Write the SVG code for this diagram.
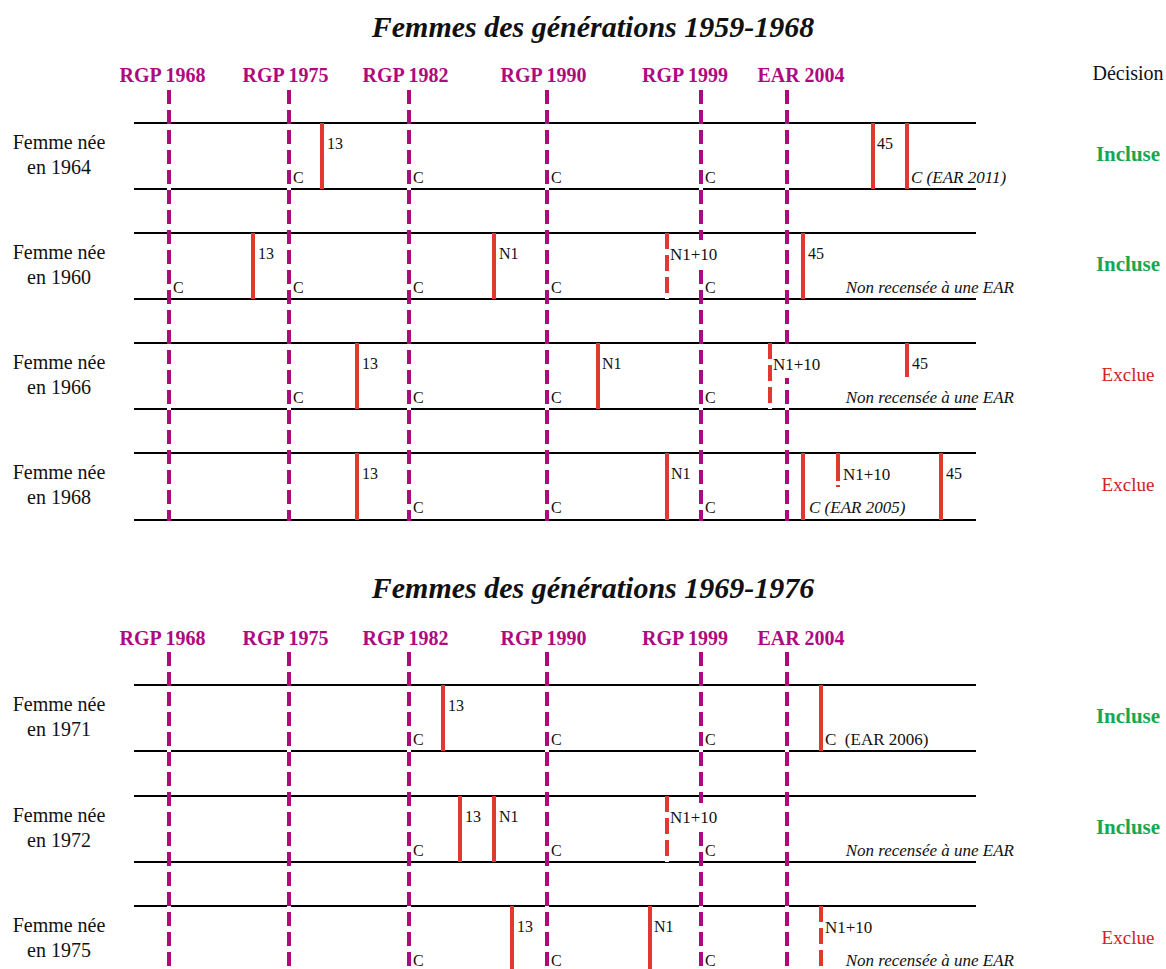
<svg xmlns="http://www.w3.org/2000/svg" width="1166" height="969" viewBox="0 0 1166 969">
<style>
text{font-family:"Liberation Serif","DejaVu Serif",serif;fill:#111}
.title{font-size:30px;font-weight:bold;font-style:italic;text-anchor:middle}
.hdr{font-size:20px;font-weight:bold;fill:#AE0A80;text-anchor:middle}
.dec{font-size:20px;text-anchor:middle}
.inc{font-size:21px;font-weight:bold;fill:#14A850;text-anchor:middle}
.exc{font-size:19px;fill:#D42020;text-anchor:middle}
.who{font-size:20px;text-anchor:middle}
.lb{font-size:16px}
.n10{font-size:17px}
.it{font-size:17px;font-style:italic}
.nr{font-size:17px;font-style:italic;text-anchor:end}
.bg{fill:#fff}
.h{stroke:#000;stroke-width:2;fill:none}
.wu{stroke:#fff;stroke-width:4;fill:none}
.pd{stroke:#AE0A80;stroke-width:4;stroke-dasharray:14 6;fill:none}
.rs{stroke:#E03A30;stroke-width:4;fill:none}
.rd{stroke:#E03A30;stroke-width:4;stroke-dasharray:16 6;fill:none}
</style>
<rect width="1166" height="969" fill="#fff"/>
<text class="title" x="593" y="37">Femmes des générations 1959-1968</text>
<text class="title" x="593" y="598">Femmes des générations 1969-1976</text>
<g id="headers-top">
<text class="hdr" x="162.5" y="82">RGP 1968</text>
<text class="hdr" x="285.5" y="82">RGP 1975</text>
<text class="hdr" x="405.5" y="82">RGP 1982</text>
<text class="hdr" x="543.5" y="82">RGP 1990</text>
<text class="hdr" x="685" y="82">RGP 1999</text>
<text class="hdr" x="801" y="82">EAR 2004</text>
<text class="dec" x="1128" y="80">Décision</text>
</g>
<g id="headers-bottom">
<text class="hdr" x="162.5" y="645">RGP 1968</text>
<text class="hdr" x="285.5" y="645">RGP 1975</text>
<text class="hdr" x="405.5" y="645">RGP 1982</text>
<text class="hdr" x="543.5" y="645">RGP 1990</text>
<text class="hdr" x="685" y="645">RGP 1999</text>
<text class="hdr" x="801" y="645">EAR 2004</text>
</g>
<g id="timelines">
<path class="h" d="M134 123H976M134 189H976M134 233H976M134 299H976M134 343H976M134 409H976M134 453H976M134 520H976"/>
<path class="h" d="M134 685H976M134 751H976M134 796H976M134 862H976M134 906H976"/>
</g>
<g id="connectors">
<path class="wu" d="M169 90V521M289 90V521M409 90V521M547 90V521M701 90V521M787 90V521"/>
<path class="pd" d="M169 90V521M289 90V521M409 90V521M547 90V521M701 90V521M787 90V521"/>
<path class="wu" d="M169 652V969M289 652V969M409 652V969M547 652V969M701 652V969M787 652V969"/>
<path class="pd" d="M169 652V969M289 652V969M409 652V969M547 652V969M701 652V969M787 652V969"/>
<path class="wu" d="M667 233V299M770 343V409M838 453V487M667 796V862M821 906V969"/>
<path class="rd" d="M667 233V299M770 343V409M667 796V862M821 906V969"/>
<path class="rs" d="M838 453V487" stroke-dasharray="28 4 2 100"/>
<path class="rs" d="M322 123V189M873 123V189M907 123V189M253 233V299M494 233V299M803 233V299M357 343V409M598 343V409M907 343V377M357 453V520M667 453V520M803 453V520M941 453V520M443 685V751M821 685V751M460 796V862M494 796V862M512 906V969M650 906V969"/>
</g>
<g id="row-1964">
<text class="who" x="59" y="149">Femme née</text><text class="who" x="59" y="174">en 1964</text>
<text class="lb" x="293" y="183">C</text><text class="lb" x="413" y="183">C</text><text class="lb" x="551" y="183">C</text><text class="lb" x="705" y="183">C</text>
<text class="lb" x="327" y="149">13</text><text class="lb" x="877" y="149">45</text>
<text class="it" x="911" y="183">C (EAR 2011)</text>
<text class="inc" x="1128" y="161">Incluse</text>
</g>
<g id="row-1960">
<text class="who" x="59" y="259">Femme née</text><text class="who" x="59" y="284">en 1960</text>
<text class="lb" x="173" y="293">C</text><text class="lb" x="293" y="293">C</text><text class="lb" x="413" y="293">C</text><text class="lb" x="551" y="293">C</text><text class="lb" x="705" y="293">C</text>
<text class="lb" x="258" y="259">13</text><text class="lb" x="499" y="259">N1</text>
<rect class="bg" x="670" y="240" width="49" height="27"/><text class="n10" x="670" y="260">N1+10</text>
<text class="lb" x="808" y="259">45</text>
<text class="nr" x="1014" y="293">Non recensée à une EAR</text>
<text class="inc" x="1128" y="271">Incluse</text>
</g>
<g id="row-1966">
<text class="who" x="59" y="369">Femme née</text><text class="who" x="59" y="394">en 1966</text>
<text class="lb" x="293" y="403">C</text><text class="lb" x="413" y="403">C</text><text class="lb" x="551" y="403">C</text><text class="lb" x="705" y="403">C</text>
<text class="lb" x="362" y="369">13</text><text class="lb" x="602" y="369">N1</text>
<rect class="bg" x="773" y="344" width="49" height="34"/><text class="n10" x="773" y="370">N1+10</text>
<text class="lb" x="912" y="369">45</text>
<text class="nr" x="1014" y="403">Non recensée à une EAR</text>
<text class="exc" x="1128" y="381">Exclue</text>
</g>
<g id="row-1968">
<text class="who" x="59" y="479">Femme née</text><text class="who" x="59" y="504">en 1968</text>
<text class="lb" x="413" y="513">C</text><text class="lb" x="551" y="513">C</text><text class="lb" x="705" y="513">C</text>
<text class="lb" x="362" y="479">13</text><text class="lb" x="671" y="479">N1</text><text class="n10" x="843" y="480">N1+10</text><text class="lb" x="946" y="479">45</text>
<text class="it" x="809" y="513">C (EAR 2005)</text>
<text class="exc" x="1128" y="491">Exclue</text>
</g>
<g id="row-1971">
<text class="who" x="59" y="711">Femme née</text><text class="who" x="59" y="736">en 1971</text>
<text class="lb" x="413" y="745">C</text><text class="lb" x="551" y="745">C</text><text class="lb" x="705" y="745">C</text>
<text class="lb" x="448" y="711">13</text>
<text class="n10" x="825" y="745" xml:space="preserve">C  (EAR 2006)</text>
<text class="inc" x="1128" y="723">Incluse</text>
</g>
<g id="row-1972">
<text class="who" x="59" y="822">Femme née</text><text class="who" x="59" y="847">en 1972</text>
<text class="lb" x="413" y="856">C</text><text class="lb" x="551" y="856">C</text><text class="lb" x="705" y="856">C</text>
<text class="lb" x="465" y="822">13</text><text class="lb" x="499" y="822">N1</text>
<rect class="bg" x="670" y="803" width="49" height="27"/><text class="n10" x="670" y="823">N1+10</text>
<text class="nr" x="1014" y="856">Non recensée à une EAR</text>
<text class="inc" x="1128" y="834">Incluse</text>
</g>
<g id="row-1975">
<text class="who" x="59" y="932">Femme née</text><text class="who" x="59" y="957">en 1975</text>
<text class="lb" x="413" y="966">C</text><text class="lb" x="551" y="966">C</text><text class="lb" x="705" y="966">C</text>
<text class="lb" x="517" y="932">13</text><text class="lb" x="654" y="932">N1</text><text class="n10" x="825" y="933">N1+10</text>
<text class="nr" x="1014" y="966">Non recensée à une EAR</text>
<text class="exc" x="1128" y="944">Exclue</text>
</g>
</svg>
